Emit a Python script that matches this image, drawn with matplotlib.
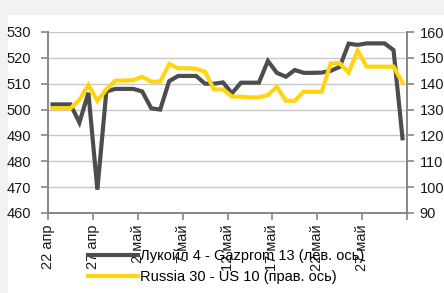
import numpy as np
import matplotlib
matplotlib.use("Agg")
import matplotlib.pyplot as plt
from matplotlib.patches import Rectangle

# ---- data (daily values, 22 Apr .. 31 May) ----
lukoil_gazprom = [502, 502, 502, 495, 506.5, 469, 507, 508, 508, 508,
                  507, 500.5, 500, 511, 513, 513, 513, 510, 510, 510.5,
                  506.3, 510.4, 510.4, 510.4, 518.8, 514.2, 512.7, 515.3, 514.2, 514.2,
                  514.3, 515, 516.5, 525.5, 525, 525.6, 525.6, 525.6, 523, 488.9]
russia_us = [130.5, 130.5, 130.5, 133.7, 139.5, 133.4, 137.8, 141.2, 141.2, 141.4,
             142.7, 140.8, 140.8, 147.6, 146, 146, 145.8, 144.6, 137.8, 137.8,
             135, 135, 134.7, 134.7, 135.6, 138.8, 133.4, 133.4, 136.9, 136.9,
             136.9, 147.9, 147.9, 144.3, 152.8, 146.6, 146.6, 146.6, 146.6, 140.4]
tick_days = [0, 5, 10, 15, 20, 25, 30, 35, 40]
tick_labels = ["22 апр", "27 апр", "2 май", "7 май", "12 май", "17 май",
               "22 май", "27 май", ""]
left_ticks = [460, 470, 480, 490, 500, 510, 520, 530]
right_ticks = [90, 100, 110, 120, 130, 140, 150, 160]
legend_labels = ["Лукойл 4 - Gazprom 13 (лев. ось)", "Russia 30 - US 10 (прав. ось)"]

GRAY = "#4d4d4d"
YELLOW = "#FFD511"
AXIS = "#868686"
FS = 10.5

plt.rcParams['font.family'] = ['Liberation Sans', 'DejaVu Sans']

fig = plt.figure(figsize=(4.44, 2.93), dpi=100, facecolor="#f2f2f2")
fig.patches.append(Rectangle((8 / 444, 0), 1 - 8 / 444, (293 - 15) / 293,
                             transform=fig.transFigure, facecolor="white",
                             edgecolor="none", zorder=-5))

L, R, T, B = 48 / 444, 407 / 444, 1 - 32 / 293, 1 - 213 / 293
ax = fig.add_axes([L, B, R - L, T - B])
ax.set_facecolor("none")
ax2 = ax.twinx()
ax2.patch.set_visible(False)

x = np.arange(len(lukoil_gazprom)) + 0.5

ax.set_xlim(0, 40)
ax.set_ylim(460, 530)
ax2.set_ylim(90, 160)
ax.set_yticks(left_ticks)
ax2.set_yticks(right_ticks)
ax.set_xticks(tick_days)
ax.set_xticklabels(tick_labels, rotation=90, fontsize=FS, va="top", ha="center")

ax.yaxis.grid(True, color="#c8c8c8", lw=1)
ax.set_axisbelow(True)

l1, = ax.plot(x, lukoil_gazprom, color=GRAY, lw=3.0, solid_joinstyle="miter", zorder=3)
l2, = ax2.plot(x, russia_us, color=YELLOW, lw=3.0, solid_joinstyle="miter", zorder=3)

for a in (ax, ax2):
    a.spines["top"].set_visible(False)
    for s in ("left", "right", "bottom"):
        a.spines[s].set_color(AXIS)
        a.spines[s].set_linewidth(1.2)
    a.tick_params(axis="both", direction="out", length=5, width=1.2, color=AXIS,
                  labelsize=FS, labelcolor="#1a1a1a", pad=3)
ax.tick_params(axis="y", pad=7)
ax2.tick_params(axis="y", pad=4)
ax.tick_params(axis="x", pad=3)

fig.legend([l1, l2], legend_labels, loc="upper left",
           bbox_to_anchor=(88 / 444, 1 - 249 / 293), frameon=False,
           fontsize=FS, handlelength=3.4, handletextpad=0.2,
           labelspacing=0.5, borderaxespad=0, borderpad=0)

fig.savefig("out.png", dpi=100, facecolor=fig.get_facecolor())
